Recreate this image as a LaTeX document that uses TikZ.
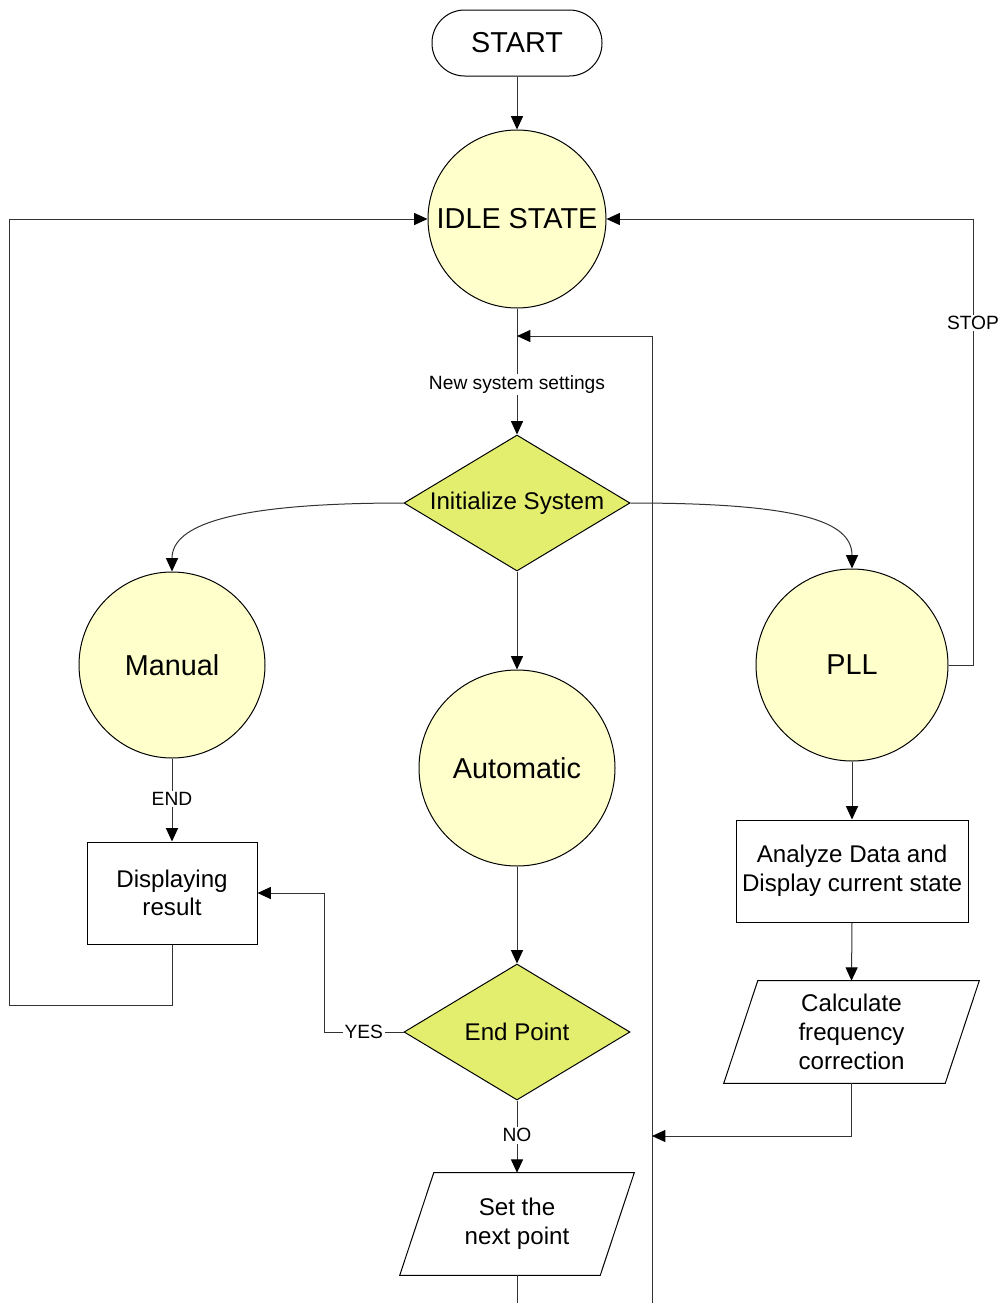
\documentclass[tikz,border=0pt]{standalone}
\usepackage{fontspec}
\setmainfont{Liberation Sans}
\usetikzlibrary{arrows.meta,shapes.geometric}
\definecolor{circfill}{HTML}{FFFFCC}
\definecolor{diafill}{HTML}{E3EE6F}
\definecolor{linec}{HTML}{333333}
\tikzset{
  big/.style={font=\fontsize{21.6}{26}\selectfont},
  mid/.style={font=\fontsize{18.1}{21.5}\selectfont},
  state/.style={circle,draw=black,line width=0.75pt,fill=circfill,inner sep=0pt,big},
  decision/.style={diamond,draw=black,line width=0.75pt,fill=diafill,inner sep=0pt,aspect=1.66,
     minimum width=169.5pt,minimum height=102pt,mid},
  procbox/.style={rectangle,draw=black,line width=0.75pt,fill=white,minimum height=76.5pt,align=center,mid},
  iobox/.style={rectangle,minimum height=76.5pt,align=center,mid,inner sep=0pt},
  lbl/.style={fill=white,inner sep=1.2pt,font=\fontsize{14.4}{16}\selectfont},
  conn/.style={draw=linec,line width=0.75pt},
  arr/.style={conn,-{Triangle[length=10pt,width=9pt,color=black,fill=black]}},
  outline/.style={draw=black,line width=0.75pt}
}
\begin{document}
\begin{tikzpicture}[x=0.75pt,y=-0.75pt]
\useasboundingbox[fill=white] (0,0) rectangle (1003,1303);

% nodes
\node[outline,rounded corners=24.5pt,minimum width=127.5pt,minimum height=49.5pt,big] (start) at (517,43) {START};
\node[state,minimum size=133.5pt] (idle) at (517,219) {IDLE STATE};
\node[decision] (init) at (517,503) {Initialize System};
\node[state,minimum size=139.5pt] (manual) at (172,665) {Manual};
\node[state,minimum size=144pt] (pll) at (852,665) {PLL};
\node[state,minimum size=147pt] (auto) at (517,768) {Automatic};
\node[procbox,minimum width=127.5pt] (disp) at (172,893) {Displaying\\result};
\node[procbox,minimum width=174pt] (ana) at (852,871) {Analyze Data and\\Display current state};
\node[decision] (endp) at (517,1032) {End Point};
\node[iobox,minimum width=150pt] (setp) at (517,1224) {Set the\\next point};
\node[iobox,minimum width=165.75pt] (calc) at (851.5,1032) {Calculate\\frequency\\correction};

% parallelogram outlines
\draw[outline] ([xshift=12.75pt]setp.north west) -- ([xshift=12.75pt]setp.north east)
   -- ([xshift=-12.75pt]setp.south east) -- ([xshift=-12.75pt]setp.south west) -- cycle;
\draw[outline] ([xshift=12.75pt]calc.north west) -- ([xshift=12.75pt]calc.north east)
   -- ([xshift=-12.75pt]calc.south east) -- ([xshift=-12.75pt]calc.south west) -- cycle;

% coordinates
\coordinate (b1) at (652,1303);
\coordinate (j1) at (517,336);
\coordinate (j2) at (652,1136);
\coordinate (c1) at (9,1005);
\coordinate (c2) at (324,1032);
\coordinate (c3) at (973,665);
\coordinate (c4) at (973,219);
\coordinate (b2) at (517,1303);

% connectors
\draw[arr] (start.south) -- (idle.north);
\draw[arr] (idle.south) -- node[lbl,pos=0.6]{New system settings} (init.north);
\draw[arr] (b1) |- (j1);
\draw[arr] (init.west) .. controls +(-170,0) and +(0,-47) .. (manual.north);
\draw[arr] (init.east) .. controls +(170,0) and +(0,-47) .. (pll.north);
\draw[arr] (init.south) -- (auto.north);
\draw[arr] (manual.south) -- node[lbl,pos=0.49]{END} (disp.north);
\draw[arr] (disp.south) |- (c1) |- (idle.west);
\draw[arr] (auto.south) -- (endp.north);
\draw[arr] (endp.west) -- node[lbl,pos=0.5]{YES} (c2) |- (disp.east);
\draw[arr] (endp.south) -- node[lbl,pos=0.48]{NO} (setp.north);
\draw[conn] (setp.south) -- (b2);
\draw[arr] (pll.south) -- (ana.north);
\draw[arr] (ana.south) -- (calc.north);
\draw[arr] (calc.south) |- (j2);
\draw[arr] (pll.east) -- (c3) -- node[lbl,pos=0.767]{STOP} (c4) -- (idle.east);
\end{tikzpicture}
\end{document}
